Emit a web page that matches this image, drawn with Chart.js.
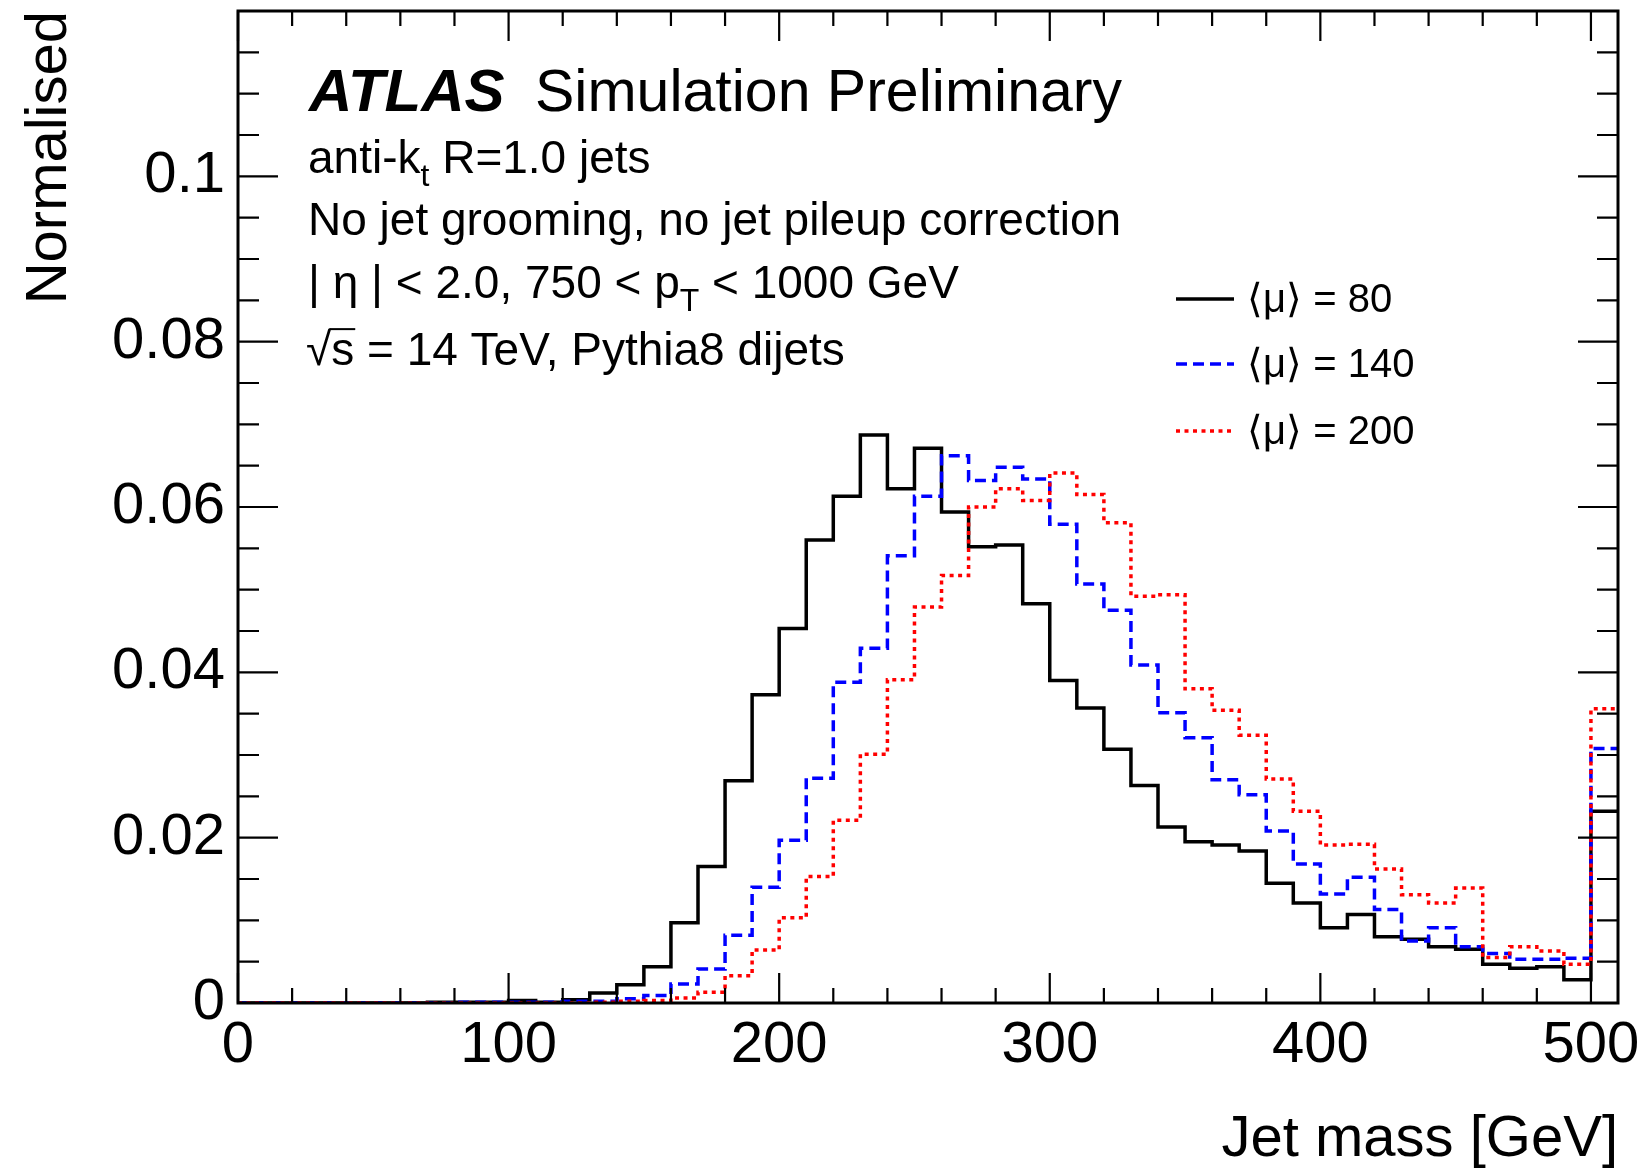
<!DOCTYPE html>
<html>
<head>
<meta charset="utf-8">
<script src="https://cdn.jsdelivr.net/npm/chart.js@4.4.1/dist/chart.umd.min.js"></script>
<style>
  html, body { margin: 0; padding: 0; background: #fff; }
  #wrap { width: 1643px; height: 1170px; position: relative; }
</style>
</head>
<body>
<div id="wrap"><canvas id="massChart"></canvas></div>
<script>
// low edge of each 10 GeV bin, the 500 bin is the overflow
const binLow = [0, 10, 20, 30, 40, 50, 60, 70, 80, 90,
                100, 110, 120, 130, 140, 150, 160, 170, 180, 190,
                200, 210, 220, 230, 240, 250, 260, 270, 280, 290,
                300, 310, 320, 330, 340, 350, 360, 370, 380, 390,
                400, 410, 420, 430, 440, 450, 460, 470, 480, 490,
                500];
const binEnd = 510;

// <mu> = 80
const mu80 = [0, 0, 0, 0, 0, 0, 0, 0.0001, 0.0001, 0.0001,
              0.0003, 0.0001, 0.0004, 0.0012, 0.0022, 0.0044, 0.0097, 0.0165, 0.0269, 0.0373,
              0.0453, 0.0560, 0.0613, 0.0687, 0.0622, 0.0671, 0.0594, 0.0552, 0.0554, 0.0483,
              0.0390, 0.0357, 0.0307, 0.0263, 0.0213, 0.0195, 0.0191, 0.0184, 0.0145, 0.0121,
              0.0091, 0.0107, 0.0080, 0.0077, 0.0068, 0.0065, 0.0047, 0.0042, 0.0044, 0.0028,
              0.0232];
// <mu> = 140
const mu140 = [0, 0, 0, 0, 0, 0, 0, 0, 0.0001, 0.0001,
               0.0001, 0.0001, 0.0002, 0.0002, 0.0005, 0.0009, 0.0023, 0.0041, 0.0082, 0.0140,
               0.0197, 0.0272, 0.0388, 0.0429, 0.0541, 0.0613, 0.0662, 0.0632, 0.0648, 0.0634,
               0.0579, 0.0507, 0.0475, 0.0409, 0.0351, 0.0321, 0.0270, 0.0252, 0.0208, 0.0168,
               0.0132, 0.0152, 0.0113, 0.0075, 0.0091, 0.0068, 0.0060, 0.0053, 0.0053, 0.0054,
               0.0308];
// <mu> = 200
const mu200 = [0, 0, 0, 0, 0, 0, 0, 0, 0, 0,
               0, 0, 0, 0.0001, 0.0002, 0.0003, 0.0006, 0.0013, 0.0033, 0.0064,
               0.0103, 0.0153, 0.0221, 0.0301, 0.0391, 0.0479, 0.0517, 0.0600, 0.0622, 0.0608,
               0.0641, 0.0615, 0.0581, 0.0492, 0.0494, 0.0380, 0.0354, 0.0324, 0.0271, 0.0232,
               0.0191, 0.0192, 0.0162, 0.0131, 0.0121, 0.0139, 0.0055, 0.0068, 0.0063, 0.0047,
               0.0356];

const xTicks = [0, 100, 200, 300, 400, 500];
const yTicks = [0, 0.02, 0.04, 0.06, 0.08, 0.1];
const seriesLabels = ["80", "140", "200"];

const FONT = "'Liberation Sans', Arial, Helvetica, sans-serif";

// histogram as a step line: one point per low edge plus the closing edge
function histPoints(vals) {
    const pts = binLow.map((x, i) => ({ x: x, y: vals[i] }));
    pts.push({ x: binEnd, y: vals[vals.length - 1] });
    return pts;
}

// text with sub scripts, runs = [{t, sub}]
function drawRuns(ctx, x, y, size, runs) {
    runs.forEach(r => {
        if (r.sub) {
            ctx.font = Math.round(size * 0.7) + "px " + FONT;
            ctx.fillText(r.t, x, y + size * 0.28);
        } else {
            ctx.font = size + "px " + FONT;
            ctx.fillText(r.t, x, y);
        }
        x += ctx.measureText(r.t).width;
    });
    return x;
}

const rootStyle = {
    id: "rootStyle",
    afterDatasetsDraw(chart) {
        const { ctx, chartArea: a, scales: { x, y } } = chart;
        ctx.save();
        ctx.strokeStyle = "#000";
        ctx.fillStyle = "#000";

        // frame
        ctx.lineWidth = 3;
        ctx.strokeRect(a.left, a.top, a.right - a.left, a.bottom - a.top);

        // ticks inside the frame, on all four sides
        ctx.lineWidth = 2.2;
        ctx.beginPath();
        for (let i = 0; i * 20 <= x.max; i++) {
            const px = x.getPixelForValue(i * 20);
            const len = (i % 5 === 0) ? 30 : 15;
            ctx.moveTo(px, a.bottom); ctx.lineTo(px, a.bottom - len);
            ctx.moveTo(px, a.top); ctx.lineTo(px, a.top + len);
        }
        for (let i = 0; i <= 24; i++) {
            const py = y.getPixelForValue(i * 0.005);
            const len = (i % 4 === 0) ? 40 : 21;
            ctx.moveTo(a.left, py); ctx.lineTo(a.left + len, py);
            ctx.moveTo(a.right, py); ctx.lineTo(a.right - len, py);
        }
        ctx.stroke();

        // axis titles
        ctx.textBaseline = "alphabetic";
        ctx.font = "58px " + FONT;
        ctx.textAlign = "right";
        ctx.fillText("Jet mass [GeV]", a.right, 1156);
        ctx.save();
        ctx.translate(66, a.top);
        ctx.rotate(-Math.PI / 2);
        ctx.fillText("Normalised", 0, 0);
        ctx.restore();

        // ATLAS label
        ctx.textAlign = "left";
        ctx.font = "italic bold 60px " + FONT;
        ctx.fillText("ATLAS", 309, 111);
        ctx.font = "59px " + FONT;
        ctx.fillText("Simulation Preliminary", 535, 111);

        // info lines
        const s = 46;
        drawRuns(ctx, 308, 173, s, [{ t: "anti-k" }, { t: "t", sub: true }, { t: " R=1.0 jets" }]);
        drawRuns(ctx, 308, 235, s, [{ t: "No jet grooming, no jet pileup correction" }]);
        drawRuns(ctx, 308, 298, s, [{ t: "| \u03b7 | < 2.0, 750 < p" }, { t: "T", sub: true }, { t: " < 1000 GeV" }]);
        // sqrt(s) with its bar
        ctx.font = s + "px " + FONT;
        const rootW = ctx.measureText("\u221a").width;
        ctx.fillText("\u221a", 306, 365);
        const sW = ctx.measureText("s").width;
        ctx.lineWidth = 2;
        ctx.beginPath();
        ctx.moveTo(306 + rootW - 2, 365 - s * 0.78);
        ctx.lineTo(306 + rootW + sW + 1, 365 - s * 0.78);
        ctx.stroke();
        ctx.fillText("s = 14 TeV, Pythia8 dijets", 306 + rootW, 365);

        // legend
        const rows = [299, 364, 431];
        chart.data.datasets.forEach((ds, i) => {
            ctx.save();
            ctx.strokeStyle = ds.borderColor;
            ctx.lineWidth = ds.borderWidth;
            ctx.setLineDash(ds.borderDash || []);
            ctx.beginPath();
            ctx.moveTo(1176, rows[i]);
            ctx.lineTo(1234, rows[i]);
            ctx.stroke();
            ctx.restore();
            ctx.font = "40px " + FONT;
            ctx.textBaseline = "middle";
            ctx.fillText(ds.label, 1247, rows[i] + 2);
        });
        ctx.restore();
    }
};

const ctx = document.getElementById("massChart").getContext("2d");
new Chart(ctx, {
    type: "line",
    data: {
        datasets: [
            {
                label: "\u27e8\u03bc\u27e9 = " + seriesLabels[0],
                data: histPoints(mu80),
                stepped: "before",
                borderColor: "#000000",
                borderWidth: 3.5,
                pointRadius: 0,
                fill: false,
                order: 3
            },
            {
                label: "\u27e8\u03bc\u27e9 = " + seriesLabels[1],
                data: histPoints(mu140),
                stepped: "before",
                borderColor: "#0000ff",
                borderWidth: 3.5,
                borderDash: [11, 6],
                pointRadius: 0,
                fill: false,
                order: 2
            },
            {
                label: "\u27e8\u03bc\u27e9 = " + seriesLabels[2],
                data: histPoints(mu200),
                stepped: "before",
                borderColor: "#ff0000",
                borderWidth: 3.5,
                borderDash: [4, 4.5],
                pointRadius: 0,
                fill: false,
                order: 1
            }
        ]
    },
    options: {
        responsive: true,
        maintainAspectRatio: false,
        animation: false,
        layout: { padding: { left: 0, right: 25, top: 11, bottom: 0 } },
        plugins: {
            legend: { display: false },
            tooltip: { enabled: false }
        },
        scales: {
            x: {
                type: "linear",
                min: 0,
                max: binEnd,
                afterBuildTicks: scale => { scale.ticks = xTicks.map(v => ({ value: v })); },
                afterFit: scale => {
                    scale.height = 167;
                    scale.paddingLeft = 0;
                    scale.paddingRight = 0;
                },
                grid: { display: false, drawTicks: false },
                border: { display: false },
                ticks: {
                    font: { family: FONT, size: 58 },
                    color: "#000",
                    padding: 8,
                    maxRotation: 0,
                    autoSkip: false,
                    callback: v => String(v)
                }
            },
            y: {
                type: "linear",
                min: 0,
                max: 0.12,
                afterBuildTicks: scale => { scale.ticks = yTicks.map(v => ({ value: v })); },
                afterFit: scale => {
                    scale.width = 238;
                    scale.paddingTop = 0;
                    scale.paddingBottom = 0;
                },
                grid: { display: false, drawTicks: false },
                border: { display: false },
                ticks: {
                    font: { family: FONT, size: 58 },
                    color: "#000",
                    padding: 13,
                    autoSkip: false,
                    callback: v => String(parseFloat(v.toFixed(3)))
                }
            }
        }
    },
    plugins: [rootStyle]
});
</script>
</body>
</html>
